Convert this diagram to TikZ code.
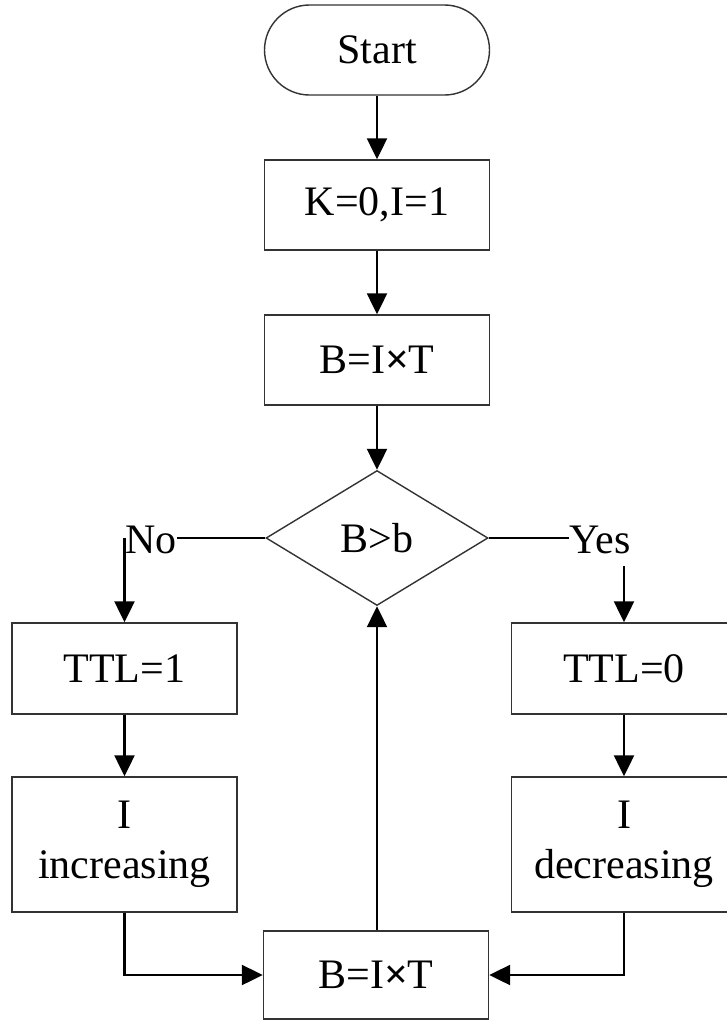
\documentclass[tikz,border=0pt]{standalone}
\usepackage{fontspec}
\setmainfont{Liberation Serif}
\usetikzlibrary{shapes.geometric,arrows.meta}
\newcommand{\mtimes}{{\bfseries ×}}
\begin{document}
\begin{tikzpicture}[x=1pt,y=-1pt,
  every node/.style={font=\fontsize{42}{50}\selectfont, text=black},
  box/.style={draw=black!80, line width=1.4pt, rectangle, minimum width=225pt, minimum height=90pt, inner sep=0pt, align=center},
  term/.style={box, rounded corners=45pt},
  dia/.style={draw=black!80, line width=1.4pt, diamond, aspect=1.64, minimum width=222pt, minimum height=135pt, inner sep=0pt},
  lbl/.style={inner sep=0pt},
  arr/.style={draw=black, line width=2.2pt, -{Triangle[width=20pt,length=21pt]}},
  ln/.style={draw=black, line width=2.2pt}]
\clip (0,0) rectangle (727,1021);
\fill[white] (0,0) rectangle (727,1021);
\node[term] (start) at (377,50) {Start};
\node[box] (init) at (377,205) {K=0,I=1};
\node[box] (calc1) at (377,360) {B=I\mtimes T};
\node[dia] (dec) at (377,538) {B>b};
\node[lbl] (no) at (151,540) {No};
\node[lbl] (yes) at (600,540) {Yes};
\node[box, minimum height=91pt] (ttl1) at (124.5,668.5) {TTL=1};
\node[box, minimum height=91pt] (ttl0) at (624,668.5) {TTL=0};
\node[box, minimum height=135pt] (inc) at (124.5,844.5) {I\\increasing};
\node[box, minimum height=135pt] (decr) at (624,844.5) {I\\decreasing};
\node[box, minimum height=88pt] (calc2) at (376,975) {B=I\mtimes T};
\coordinate (nodrop) at (124.5,538);
\coordinate (yesdrop) at (624,566);
\draw[arr] (start) -- (init);
\draw[arr] (init) -- (calc1);
\draw[arr] (calc1) -- (dec.north);
\draw[ln] (dec.west) -- (dec.west -| no.east);
\draw[ln] (dec.east) -- (dec.east -| yes.west);
\draw[arr] (nodrop) -- (ttl1.north);
\draw[arr] (yesdrop) -- (ttl0.north);
\draw[arr] (ttl1) -- (inc);
\draw[arr] (ttl0) -- (decr);
\draw[arr] (inc.south) |- (calc2.west);
\draw[arr] (decr.south) |- (calc2.east);
\draw[arr] (calc2.north -| dec.south) -- (dec.south);
\end{tikzpicture}
\end{document}
